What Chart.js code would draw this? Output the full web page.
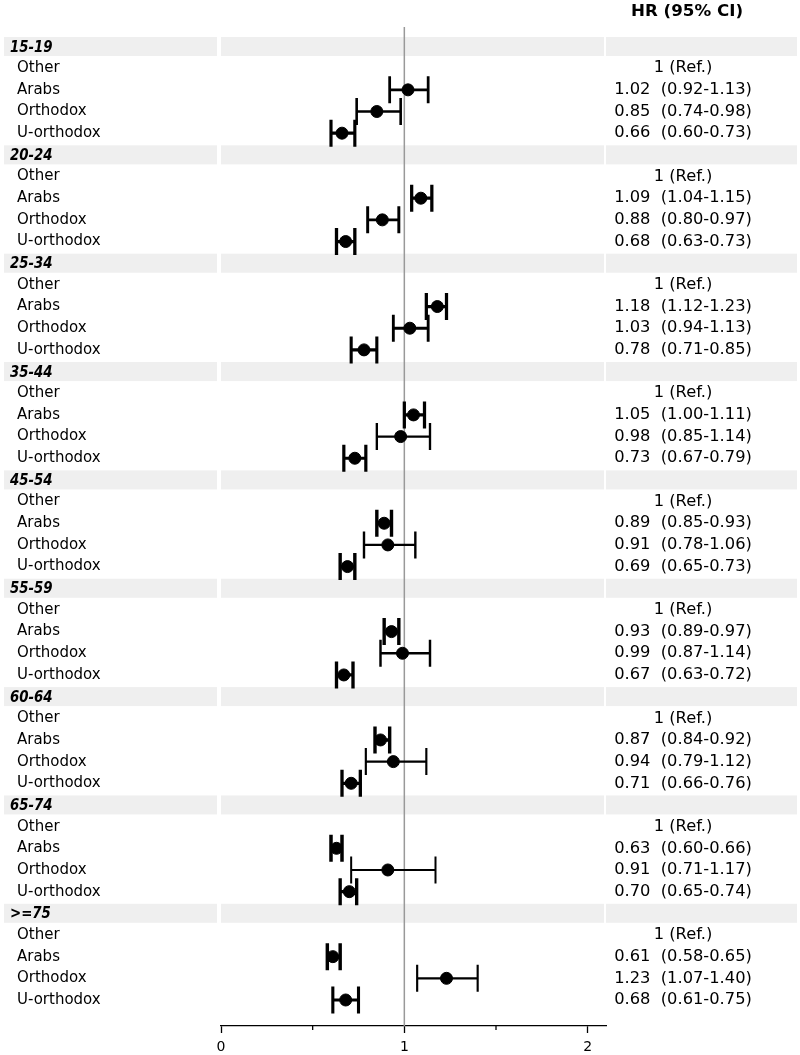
<!DOCTYPE html>
<html>
<head>
<meta charset="utf-8">
<script src="https://cdn.jsdelivr.net/npm/chart.js@4.4.0/dist/chart.umd.min.js"></script>
<style>
  body { margin: 0; background: #fff; }
</style>
</head>
<body>
<canvas id="forest" width="800" height="1055"></canvas>
<script>
// age groups and religious groups
var ageGroups = ['15-19', '20-24', '25-34', '35-44', '45-54', '55-59', '60-64', '65-74', '>=75'];
var groupNames = ['Other', 'Arabs', 'Orthodox', 'U-orthodox'];

// hazard ratios + 95% CI per group (Other is reference = 1)
var arabsHR = [1.02, 1.09, 1.18, 1.05, 0.89, 0.93, 0.87, 0.63, 0.61];
var arabsLo = [0.92, 1.04, 1.12, 1.00, 0.85, 0.89, 0.84, 0.60, 0.58];
var arabsHi = [1.13, 1.15, 1.23, 1.11, 0.93, 0.97, 0.92, 0.66, 0.65];

var orthHR = [0.85, 0.88, 1.03, 0.98, 0.91, 0.99, 0.94, 0.91, 1.23];
var orthLo = [0.74, 0.80, 0.94, 0.85, 0.78, 0.87, 0.79, 0.71, 1.07];
var orthHi = [0.98, 0.97, 1.13, 1.14, 1.06, 1.14, 1.12, 1.17, 1.40];

var uorthHR = [0.66, 0.68, 0.78, 0.73, 0.69, 0.67, 0.71, 0.70, 0.68];
var uorthLo = [0.60, 0.63, 0.71, 0.67, 0.65, 0.63, 0.66, 0.65, 0.61];
var uorthHi = [0.73, 0.73, 0.85, 0.79, 0.73, 0.72, 0.76, 0.74, 0.75];

var xTicks = [0, 1, 2];

// build the row list: header row + 4 rows per age group
var rows = [];
ageGroups.forEach(function (g, i) {
  rows.push({ label: g, header: true });
  rows.push({ label: groupNames[0], ref: true });
  rows.push({ label: groupNames[1], hr: arabsHR[i], lo: arabsLo[i], hi: arabsHi[i] });
  rows.push({ label: groupNames[2], hr: orthHR[i], lo: orthLo[i], hi: orthHi[i] });
  rows.push({ label: groupNames[3], hr: uorthHR[i], lo: uorthLo[i], hi: uorthHi[i] });
});

var points = [];
rows.forEach(function (r, idx) {
  if (r.hr !== undefined) points.push({ x: r.hr, y: idx, lo: r.lo, hi: r.hi });
});

var FONT = '"DejaVu Sans", sans-serif';

var forestPlugin = {
  id: 'forest',
  beforeDraw: function (chart) {
    var c = chart.ctx, a = chart.chartArea, ys = chart.scales.y;
    c.save();
    c.fillStyle = '#efefef';
    rows.forEach(function (r, idx) {
      if (!r.header) return;
      var y = ys.getPixelForValue(idx);
      c.fillRect(4, y - 9.5, a.left - 8, 19);
      c.fillRect(a.left, y - 9.5, a.right - 2 - a.left, 19);
      c.fillRect(a.right, y - 9.5, 797 - a.right, 19);
    });
    c.restore();
  },
  beforeDatasetsDraw: function (chart) {
    var c = chart.ctx, a = chart.chartArea, xs = chart.scales.x, ys = chart.scales.y;
    c.save();
    // reference line at HR = 1
    var x1 = xs.getPixelForValue(1);
    c.strokeStyle = '#999';
    c.lineWidth = 1.5;
    c.beginPath();
    c.moveTo(x1, a.top);
    c.lineTo(x1, a.bottom);
    c.stroke();
    // error bars, thicker for narrower intervals
    c.strokeStyle = '#000';
    points.forEach(function (p) {
      var span = p.hi - p.lo;
      var lw = Math.max(2, Math.min(3.5, 3.8 - 5 * span));
      var y = ys.getPixelForValue(p.y);
      var xl = xs.getPixelForValue(p.lo), xh = xs.getPixelForValue(p.hi);
      c.lineWidth = lw;
      c.beginPath();
      c.moveTo(xl, y); c.lineTo(xh, y);
      c.moveTo(xl, y - 13.5); c.lineTo(xl, y + 13.5);
      c.moveTo(xh, y - 13.5); c.lineTo(xh, y + 13.5);
      c.stroke();
    });
    // minor ticks
    c.lineWidth = 1.3;
    [0.5, 1.5].forEach(function (v) {
      var x = xs.getPixelForValue(v);
      c.beginPath();
      c.moveTo(x, a.bottom); c.lineTo(x, a.bottom + 4);
      c.stroke();
    });
    c.restore();
  },
  afterDraw: function (chart) {
    var c = chart.ctx, ys = chart.scales.y;
    c.save();
    c.fillStyle = '#000';
    c.textBaseline = 'middle';
    c.textAlign = 'center';
    c.font = 'bold 16.7px ' + FONT;
    c.fillText('HR (95% CI)', 687, 12);
    rows.forEach(function (r, idx) {
      var y = ys.getPixelForValue(idx);
      c.textAlign = 'left';
      if (r.header) {
        // narrow bold italic, like the original
        c.save();
        c.font = 'italic bold 15.5px ' + FONT;
        c.translate(10, y + 1);
        c.scale(0.86, 1);
        c.fillText(r.label, 0, 0);
        c.restore();
        return;
      }
      c.font = '15px ' + FONT;
      c.fillText(r.label, 17, y);
      c.textAlign = 'center';
      c.font = '16.3px ' + FONT;
      if (r.ref) {
        c.fillText('1 (Ref.)', 683, y);
      } else {
        c.fillText(r.hr.toFixed(2) + '  (' + r.lo.toFixed(2) + '-' + r.hi.toFixed(2) + ')', 683, y);
      }
    });
    c.restore();
  }
};

new Chart(document.getElementById('forest'), {
  type: 'scatter',
  data: {
    datasets: [{
      data: points,
      backgroundColor: '#000',
      borderColor: '#000',
      pointRadius: 6,
      pointHoverRadius: 6
    }]
  },
  options: {
    responsive: false,
    animation: false,
    layout: { padding: { top: 27, left: 221, right: 194, bottom: 0 } },
    plugins: { legend: { display: false }, tooltip: { enabled: false } },
    scales: {
      x: {
        type: 'linear',
        min: 0,
        max: 2.1,
        afterFit: function (s) { s.height = 29; },
        afterBuildTicks: function (s) { s.ticks = xTicks.map(function (v) { return { value: v }; }); },
        ticks: {
          includeBounds: false,
          padding: 6,
          color: '#000',
          font: { family: FONT, size: 14 },
          callback: function (v) { return String(v); }
        },
        grid: { drawOnChartArea: false, drawTicks: true, tickLength: 7, color: '#000', tickWidth: 1.3 },
        border: { display: true, color: '#000', width: 1.3 }
      },
      y: {
        type: 'linear',
        reverse: true,
        min: -0.9,
        max: 45.2,
        display: false
      }
    }
  },
  plugins: [forestPlugin]
});
</script>
</body>
</html>
